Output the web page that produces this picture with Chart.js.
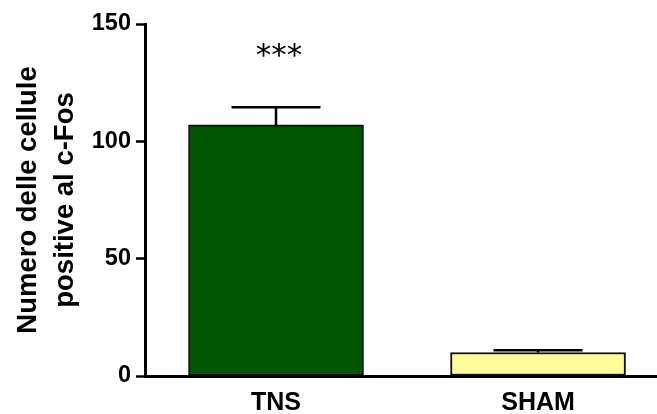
<!DOCTYPE html>
<html>
<head>
<meta charset="utf-8">
<script src="https://cdn.jsdelivr.net/npm/chart.js@4/dist/chart.umd.min.js"></script>
<style>
  html, body { margin: 0; padding: 0; background: #fff; overflow: hidden; }
  #wrap { width: 657px; height: 414px; }
</style>
</head>
<body>
<div id="wrap"><canvas id="c" width="657" height="414"></canvas></div>
<script>
// ---- data ----
const categories = ['TNS', 'SHAM'];
const meanValues = [107, 10];
const semValues = [7.5, 1];
const significance = ['***', ''];
const significanceLevel = [138.5, null];
const yTicks = [0, 50, 100, 150];
const yTitle = ['Numero delle cellule', 'positive al c-Fos'];
const barColors = ['#005500', '#FFFF99'];

const errorBarPlugin = {
  id: 'errorBars',
  afterDatasetsDraw(chart) {
    const ctx = chart.ctx;
    const xs = chart.scales.x, ys = chart.scales.y;
    ctx.save();
    ctx.strokeStyle = '#000';
    ctx.lineWidth = 2.5;
    meanValues.forEach((v, i) => {
      const x = xs.getPixelForValue(i);
      const yTop = ys.getPixelForValue(v + semValues[i]);
      const yBase = ys.getPixelForValue(v);
      ctx.beginPath();
      ctx.moveTo(x, yBase);
      ctx.lineTo(x, yTop);
      ctx.moveTo(x - 44.5, yTop);
      ctx.lineTo(x + 44.5, yTop);
      ctx.stroke();
    });
    ctx.fillStyle = '#000';
    ctx.font = '31px "DejaVu Sans"';
    ctx.textAlign = 'center';
    ctx.textBaseline = 'middle';
    significance.forEach((s, i) => {
      if (!s) return;
      ctx.fillText(s, xs.getPixelForValue(i) + 3, ys.getPixelForValue(significanceLevel[i]) + 6);
    });
    ctx.restore();
  }
};

new Chart(document.getElementById('c'), {
  type: 'bar',
  data: {
    datasets: [{
      data: meanValues.map((v, i) => ({ x: i, y: v })),
      backgroundColor: barColors,
      borderColor: '#111',
      borderWidth: 2,
      borderSkipped: false,
      barThickness: 175
    }]
  },
  options: {
    responsive: false,
    animation: false,
    layout: { padding: { top: 24, right: 0, bottom: 0, left: 0 } },
    plugins: { legend: { display: false }, tooltip: { enabled: false } },
    scales: {
      x: {
        type: 'linear',
        offset: false,
        min: -0.5,
        max: 1.454,
        afterBuildTicks: s => { s.ticks = categories.map((c, i) => ({ value: i })); },
        afterFit: s => { s.height = 38; },
        ticks: {
          callback: (v) => categories[v] ?? '',
          color: '#000',
          font: { family: '"Liberation Sans", Arial, sans-serif', size: 25, weight: 'bold' },
          padding: 12,
          maxRotation: 0
        },
        grid: { display: true, drawOnChartArea: false, drawTicks: false },
        border: { display: true, color: '#000', width: 3 }
      },
      y: {
        min: 0,
        max: 150,
        afterBuildTicks: s => { s.ticks = yTicks.map(v => ({ value: v })); },
        afterFit: s => { s.width = 145; },
        ticks: {
          color: '#000',
          font: { family: '"Liberation Sans", Arial, sans-serif', size: 23.5, weight: 'bold' },
          padding: 5
        },
        grid: { display: true, drawOnChartArea: false, drawTicks: true, tickLength: 9, tickWidth: 2.5, tickColor: '#000' },
        border: { display: true, color: '#000', width: 3 },
        title: {
          display: true,
          text: yTitle,
          color: '#000',
          font: { family: '"Liberation Sans", Arial, sans-serif', size: 27.5, weight: 'bold', lineHeight: 1.35 },
          padding: { top: 10, bottom: 0 }
        }
      }
    }
  },
  plugins: [errorBarPlugin]
});
</script>
</body>
</html>
